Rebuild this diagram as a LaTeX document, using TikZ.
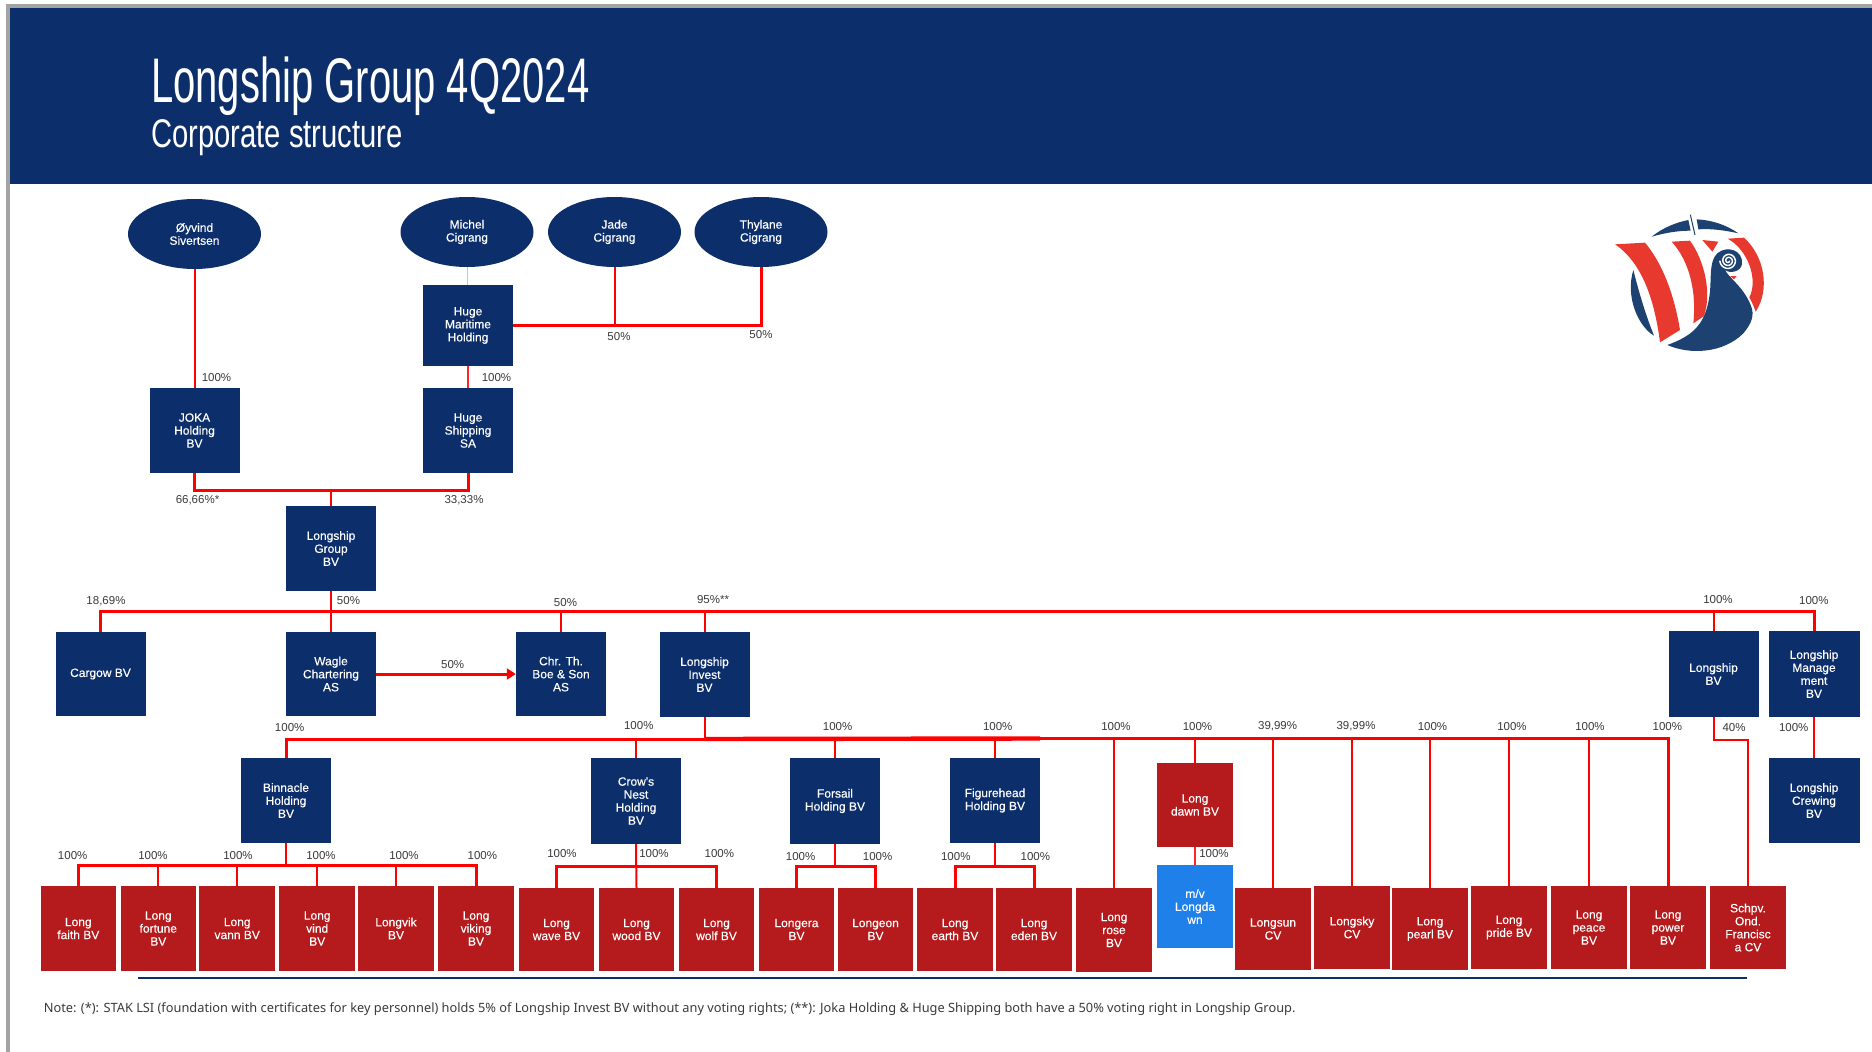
\documentclass[tikz,border=0pt]{standalone}
\usepackage{fontspec}
\setmainfont{Liberation Sans}
\newfontfamily\boxfam[FakeBold=0.25]{Liberation Sans}
\newfontfamily\titlefam[FakeStretch=0.635]{Liberation Sans}
\newfontfamily\subfam[FakeStretch=0.73]{Liberation Sans}
\newfontfamily\notefam{Noto Sans}
\usetikzlibrary{shapes.geometric,arrows.meta}
\definecolor{navy}{HTML}{0C2F6C}
\definecolor{boxred}{HTML}{B51A1C}
\definecolor{skyb}{HTML}{1E80E8}
\definecolor{pctgrey}{HTML}{3A3A3A}
\definecolor{edgegrey}{HTML}{A3A3A3}
\definecolor{logored}{HTML}{E8392F}
\definecolor{logonavy}{HTML}{1D4272}
\tikzset{
  wh/.style 2 args={minimum width=#1pt,minimum height=#2pt},
  tag/.style={inner sep=0pt,align=center,text=white,font=\boxfam\fontsize{12}{13}\selectfont},
  navybox/.style={tag,fill=navy,rectangle,wh={90}{85}},
  redbox/.style={tag,fill=boxred,rectangle,wh={75.5}{84}},
  person/.style={tag,fill=navy,ellipse,wh={133}{70}},
  pct/.style={inner sep=0pt,text=pctgrey,font=\fontsize{11.5}{12}\selectfont},
  link/.style={draw=red,line width=2pt},
  bus/.style={draw=red,line width=3pt},
  thinlink/.style={draw=red!85!white,line width=1.4pt},
  palelink/.style={draw=red!25!gray!40!white,line width=1pt},
}
\begin{document}
\begin{tikzpicture}[x=1pt,y=-1pt]
\useasboundingbox (0,0) rectangle (1872,1052);
\fill[white] (0,0) rectangle (1872,1052);
\fill[edgegrey] (7,4) rectangle (1872,8);
\fill[edgegrey] (6,4) rectangle (10,1052);
\fill[navy] (10,8) rectangle (1872,184);
\node[anchor=base west,inner sep=0pt,text=white,font=\titlefam\fontsize{63}{66}\selectfont] (title) at (151,102) {Longship Group 4Q2024};
\node[anchor=base west,inner sep=0pt,text=white,font=\subfam\fontsize{40}{44}\selectfont] (subtitle) at (151,147) {Corporate structure};

% owners
\node[person] (oyvind) at (194.5,234) {Øyvind\\Sivertsen};
\node[person] (michel) at (467,232) {Michel\\Cigrang};
\node[person] (jade) at (614.5,232) {Jade\\Cigrang};
\node[person] (thylane) at (761,232) {Thylane\\Cigrang};
% holdings
\node[navybox,wh={90}{81}] (maritime) at (468,325.5) {Huge\\Maritime\\Holding};
\node[navybox] (joka) at (194.5,430.5) {JOKA\\Holding\\BV};
\node[navybox] (hship) at (468,430.5) {Huge\\Shipping\\SA};
\node[navybox] (group) at (331,548.5) {Longship\\Group\\BV};
\node[navybox,wh={90}{84}] (cargow) at (100.5,674) {Cargow BV};
\node[navybox,wh={90}{84}] (wagle) at (331,674) {Wagle\\Chartering\\AS};
\node[navybox,wh={90}{84}] (chr) at (561,674) {Chr. Th.\\Boe \& Son\\AS};
\node[navybox] (invest) at (704.5,674.5) {Longship\\Invest\\BV};
\node[navybox,wh={90}{86}] (lship) at (1713.5,674) {Longship\\BV};
\node[navybox,wh={91}{86}] (mgmt) at (1814,674) {Longship\\Manage\\ment\\BV};
\node[navybox] (binnacle) at (286,800.5) {Binnacle\\Holding\\BV};
\node[navybox,wh={90}{86}] (crows) at (636,801) {Crow's\\Nest\\Holding\\BV};
\node[navybox,wh={90}{86}] (forsail) at (835,801) {Forsail\\Holding BV};
\node[navybox] (fig) at (995,800.5) {Figurehead\\Holding BV};
\node[navybox,wh={91}{85}] (crewing) at (1814,800.5) {Longship\\Crewing\\BV};
% ship companies
\node[redbox,wh={76}{84}] (dawn) at (1195,805) {Long\\dawn BV};
\node[tag,fill=skyb,rectangle,wh={76}{83}] (longdawn) at (1195,906.5) {m/v\\Longda\\wn};
\node[redbox,wh={75.5}{85}] (faith) at (78.3,928.5) {Long\\faith BV};
\node[redbox,wh={75.5}{85}] (fortune) at (158.3,928.5) {Long\\fortune\\BV};
\node[redbox,wh={75.5}{85}] (vann) at (237.2,928.5) {Long\\vann BV};
\node[redbox,wh={75.5}{85}] (vind) at (317.2,928.5) {Long\\vind\\BV};
\node[redbox,wh={75.5}{85}] (longvik) at (396,928.5) {Longvik\\BV};
\node[redbox,wh={75.5}{85}] (viking) at (476,928.5) {Long\\viking\\BV};
\node[redbox,wh={75.5}{83}] (wave) at (556.5,929.5) {Long\\wave BV};
\node[redbox,wh={75.5}{83}] (wood) at (636.5,929.5) {Long\\wood BV};
\node[redbox,wh={75.5}{83}] (wolf) at (716.5,929.5) {Long\\wolf BV};
\node[redbox,wh={75.5}{83}] (longera) at (796.5,929.5) {Longera\\BV};
\node[redbox,wh={75.5}{83}] (longeon) at (875.5,929.5) {Longeon\\BV};
\node[redbox,wh={75.5}{83}] (earth) at (955,929.5) {Long\\earth BV};
\node[redbox,wh={75.5}{83}] (eden) at (1034,929.5) {Long\\eden BV};
\node[redbox,wh={75.5}{84}] (rose) at (1114,930) {Long\\rose\\BV};
\node[redbox,wh={76}{82}] (longsun) at (1273,929) {Longsun\\CV};
\node[redbox,wh={76}{83}] (longsky) at (1352,927.5) {Longsky\\CV};
\node[redbox,wh={76}{82}] (pearl) at (1430,929) {Long\\pearl BV};
\node[redbox,wh={76}{83}] (pride) at (1509,927.5) {Long\\pride BV};
\node[redbox,wh={76}{83}] (peace) at (1589,927.5) {Long\\peace\\BV};
\node[redbox,wh={76}{83}] (power) at (1668,927.5) {Long\\power\\BV};
\node[redbox,wh={76}{83}] (schpv) at (1748,927.5) {Schpv.\\Ond.\\Francisc\\a CV};

% junctions
\coordinate (jShip) at (331,490);
\coordinate (jTop) at (331,611.6);
\coordinate (jMid) at (704.5,739);
\coordinate (jMidR) at (1040,738.5);
\coordinate (jBin) at (286,865);
\coordinate (jCrow) at (636,866);
\coordinate (jFor) at (835,866);
\coordinate (jFig) at (995,866);
\coordinate (jSch) at (1713.5,740);
\coordinate (ruleL) at (138,978);
\coordinate (ruleR) at (1747,978);

% connectors
\draw[link] (oyvind.south) -- (joka.north);
\draw[palelink] (michel.south) -- (michel.south|-maritime.north);
\draw[link] (jade.south) -- (jade.south|-maritime.east);
\draw[bus] (maritime.east) -| (thylane.south);
\draw[thinlink] (maritime.south) -- (hship.north);
\draw[bus] (joka.south) |- (jShip) -| (hship.south);
\draw[link] (jShip) -- (group.north);
\draw[link] (group.south) -- (wagle.north);
\draw[bus] (cargow.north) |- (jTop) -| (mgmt.north);
\draw[link] (chr.north) -- (chr.north|-jTop);
\draw[link] (invest.north) -- (invest.north|-jTop);
\draw[link] (lship.north) -- (lship.north|-jTop);
\draw[bus,-{Triangle[length=9pt,width=11pt]}] (wagle.east) -- (chr.west);
\draw[link] (invest.south) -- (jMid);
\draw[bus] (binnacle.north) |- (jMid);
\draw[bus,line width=4.4pt] (jMid) -- (jMidR);
\draw[bus] (jMidR) -| (power.north);
\draw[link] (crows.north) -- (crows.north|-jMid);
\draw[link] (forsail.north) -- (forsail.north|-jMid);
\draw[link] (fig.north) -- (fig.north|-jMid);
\draw[link] (rose.north) -- (rose.north|-jMid);
\draw[link] (dawn.north) -- (dawn.north|-jMid);
\draw[link] (longsun.north) -- (longsun.north|-jMid);
\draw[link] (longsky.north) -- (longsky.north|-jMid);
\draw[link] (pearl.north) -- (pearl.north|-jMid);
\draw[link] (pride.north) -- (pride.north|-jMid);
\draw[link] (peace.north) -- (peace.north|-jMid);
\draw[link] (lship.south) |- (jSch) -| (schpv.north);
\draw[link] (mgmt.south) -- (crewing.north);
\draw[thinlink] (dawn.south) -- (longdawn.north);
\draw[link] (binnacle.south) -- (jBin);
\draw[bus] (faith.north) |- (jBin) -| (viking.north);
\draw[link] (fortune.north) -- (fortune.north|-jBin);
\draw[link] (vann.north) -- (vann.north|-jBin);
\draw[link] (vind.north) -- (vind.north|-jBin);
\draw[link] (longvik.north) -- (longvik.north|-jBin);
\draw[link] (crows.south) -- (wood.north);
\draw[bus] (wave.north) |- (jCrow) -| (wolf.north);
\draw[link] (forsail.south) -- (jFor);
\draw[bus] (longera.north) |- (jFor) -| (longeon.north);
\draw[link] (fig.south) -- (jFig);
\draw[bus] (earth.north) |- (jFig) -| (eden.north);
\draw[draw=navy,line width=1.6pt] (ruleL) -- (ruleR);

% percentages
\node[pct] (p01) at (216.5,377.5) {100\%};
\node[pct] (p02) at (496.5,377.5) {100\%};
\node[pct] (p03) at (619,337) {50\%};
\node[pct] (p04) at (761,335) {50\%};
\node[pct] (p05) at (197.5,500) {66,66\%*};
\node[pct] (p06) at (464,500) {33,33\%};
\node[pct] (p07) at (106,601) {18,69\%};
\node[pct] (p08) at (348.5,601) {50\%};
\node[pct] (p09) at (565.5,602.5) {50\%};
\node[pct] (p10) at (713,600) {95\%**};
\node[pct] (p11) at (452.7,664.5) {50\%};
\node[pct] (p12) at (289.7,728) {100\%};
\node[pct] (p13) at (638.8,725.7) {100\%};
\node[pct] (p14) at (837.6,727) {100\%};
\node[pct] (p15) at (72.7,855.6) {100\%};
\node[pct] (p16) at (153,855.6) {100\%};
\node[pct] (p17) at (238,855.6) {100\%};
\node[pct] (p18) at (321,855.6) {100\%};
\node[pct] (p19) at (404,855.6) {100\%};
\node[pct] (p20) at (482.4,855.6) {100\%};
\node[pct] (p21) at (562,854) {100\%};
\node[pct] (p22) at (654,854) {100\%};
\node[pct] (p23) at (719.4,854) {100\%};
\node[pct] (p24) at (800.6,856.7) {100\%};
\node[pct] (p25) at (877.6,856.7) {100\%};
\node[pct] (p26) at (997.7,726.7) {100\%};
\node[pct] (p27) at (1116,726.7) {100\%};
\node[pct] (p28) at (1197.5,726.7) {100\%};
\node[pct] (p29) at (1277.6,726.7) {39,99\%};
\node[pct] (p30) at (1356,726.7) {39,99\%};
\node[pct] (p31) at (1432.5,726.7) {100\%};
\node[pct] (p32) at (1512,726.7) {100\%};
\node[pct] (p33) at (1590,726.7) {100\%};
\node[pct] (p34) at (1667.4,726.7) {100\%};
\node[pct] (p35) at (1734,728) {40\%};
\node[pct] (p36) at (1793.7,728) {100\%};
\node[pct] (p37) at (1718,600) {100\%};
\node[pct] (p38) at (1813.8,601) {100\%};
\node[pct] (p39) at (955.8,856.7) {100\%};
\node[pct] (p40) at (1035.4,856.7) {100\%};
\node[pct] (p41) at (1214,854) {100\%};

% note
\node[anchor=west,inner sep=0pt,text=pctgrey,font=\notefam\fontsize{12.8}{14}\selectfont] (note) at (43.6,1009.5) {Note: (*): STAK LSI (foundation with certificates for key personnel) holds 5\% of Longship Invest BV without any voting rights; (**): Joka Holding \& Huge Shipping both have a 50\% voting right in Longship Group.};

% logo
\begin{scope}[shift={(1580pt,-190pt)},x=.33333pt,y=-.33333pt]
  \fill[logonavy] (215,140) .. controls (250,112) and (290,97) .. (325,90) -- (332,122) .. controls (290,122) and (250,130) .. (215,140) -- cycle;
  \fill[logonavy] (350,88) .. controls (395,90) and (440,105) .. (475,130) .. controls (440,122) and (395,115) .. (355,118) -- cycle;
  \draw[logonavy,line width=1pt] (331,74) -- (345,135);
  \fill[logonavy] (160,240) .. controls (175,300) and (195,370) .. (222,437) .. controls (175,410) and (135,320) .. (160,240) -- cycle;
  \fill[logored] (105,163) -- (195,158) .. controls (255,230) and (285,330) .. (300,420) -- (240,457) .. controls (225,340) and (190,220) .. (105,163) -- cycle;
  \fill[logored] (275,155) -- (330,152) .. controls (375,215) and (395,310) .. (372,378) -- (340,400) .. controls (350,310) and (330,215) .. (275,155) -- cycle;
  \fill[logored] (367,150) -- (415,155) -- (397,185) -- cycle;
  \fill[logored] (443,146) -- (492,143) .. controls (555,200) and (570,300) .. (527,365) .. controls (522,350) and (515,335) .. (508,322) .. controls (535,270) and (505,180) .. (443,146) -- cycle;
  \fill[logored] (450,258) -- (470,258) -- (462,268) -- cycle;
  \fill[logonavy] (262,465) .. controls (330,440) and (375,410) .. (388,320) .. controls (396,270) and (385,215) .. (412,190) .. controls (440,165) and (490,180) .. (486,222) .. controls (483,245) and (450,252) .. (435,240) .. controls (445,262) and (490,290) .. (512,345) .. controls (525,375) and (515,400) .. (490,430) .. controls (430,490) and (330,495) .. (262,465) -- cycle;
  \draw[white,line width=1.5pt] plot[smooth,domain=0:900,samples=50] ({445+(3+\x/40)*cos(\x)},{212+(3+\x/40)*sin(\x)});
\end{scope}
\end{tikzpicture}
\end{document}
